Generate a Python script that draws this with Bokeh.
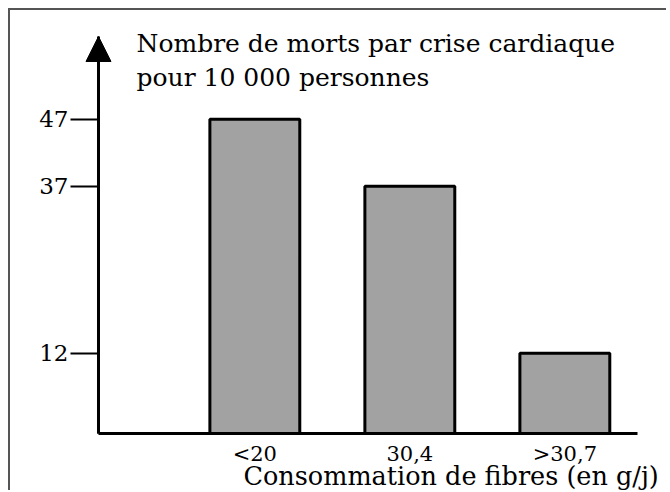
from bokeh.plotting import figure
from bokeh.models import Range1d, FixedTicker, Label, Arrow, NormalHead, ColumnDataSource
from bokeh.embed import file_html
from bokeh.resources import INLINE

# ---- data ----
categories = ["<20", "30,4", ">30,7"]
deaths = [47, 37, 12]
y_ticks = [12, 37, 47]
title_lines = ["Nombre de morts par crise cardiaque", "pour 10 000 personnes"]
x_title = "Consommation de fibres (en g/j)"

FONT = "DejaVu Serif"
xs = list(range(len(categories)))
src = ColumnDataSource(dict(x=xs, top=deaths, cat=categories))

# axis geometry (data units)
Y_AXIS_X = -1.0086       # where the vertical axis stands
X_AXIS_END = 2.4689      # right end of the horizontal axis
Y_AXIS_TOP = 59.4        # tip of the arrow

p = figure(width=658, height=482, output_backend="svg", toolbar_location=None,
           x_range=Range1d(-1.5763, 2.6688), y_range=Range1d(-8.83, 63.29),
           min_border=0, min_border_left=0, min_border_right=0,
           min_border_top=0, min_border_bottom=0)
p.styles = {"margin-left": "8px", "margin-top": "8px",
            "border-left": "2px solid #555555", "border-top": "2px solid #555555"}
p.xgrid.visible = False
p.ygrid.visible = False
p.outline_line_color = None
p.background_fill_color = "white"
p.border_fill_color = "white"

p.vbar(x="x", top="top", bottom=0, width=0.58, source=src,
       fill_color="#a2a2a2", line_color="black", line_width=3)

# x axis
xa = p.xaxis[0]
xa.fixed_location = 0
xa.bounds = (Y_AXIS_X, X_AXIS_END)
xa.ticker = FixedTicker(ticks=xs)
xa.major_label_overrides = {i: c for i, c in zip(xs, categories)}
xa.major_tick_in = 0
xa.major_tick_out = 0
xa.minor_tick_line_color = None
xa.axis_line_width = 3
xa.axis_line_color = "black"
xa.major_label_text_font = FONT
xa.major_label_text_font_size = "21px"
xa.major_label_text_color = "black"
xa.major_label_standoff = 9

# y axis
ya = p.yaxis[0]
ya.fixed_location = Y_AXIS_X
ya.bounds = (0, Y_AXIS_TOP)
ya.ticker = FixedTicker(ticks=y_ticks)
ya.major_tick_in = 0
ya.major_tick_out = 28
ya.major_tick_line_width = 2
ya.major_tick_line_color = "black"
ya.minor_tick_line_color = None
ya.axis_line_width = 3
ya.axis_line_color = "black"
ya.major_label_text_font = FONT
ya.major_label_text_font_size = "23px"
ya.major_label_text_color = "black"
ya.major_label_standoff = 2

# arrow head on y axis
p.add_layout(Arrow(end=NormalHead(size=25, fill_color="black", line_color="black"),
                   x_start=Y_AXIS_X, y_start=0, x_end=Y_AXIS_X, y_end=Y_AXIS_TOP,
                   line_width=3, line_color="black"))

# titles
for t, yy in zip(title_lines, [58.35, 53.26]):
    p.add_layout(Label(x=-0.7634, y=yy, text=t, text_font=FONT, text_font_size="25px",
                       text_baseline="alphabetic", text_align="left", text_color="black"))

p.add_layout(Label(x=-0.0731, y=-6.43, text=x_title, text_font=FONT, text_font_size="25.5px",
                   text_baseline="alphabetic", text_align="left", text_color="black"))

open("out.html", "w").write(file_html(p, INLINE))
